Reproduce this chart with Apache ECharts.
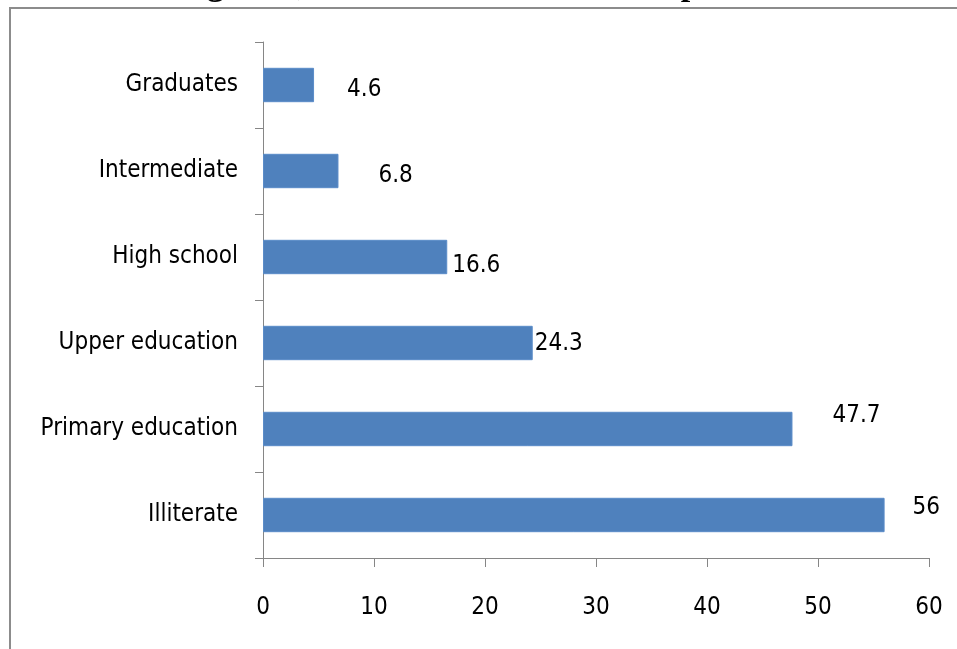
<!DOCTYPE html>
<html>
<head>
<meta charset="utf-8">
<script src="https://cdn.jsdelivr.net/npm/echarts@6/dist/echarts.min.js"></script>
<style>
  html, body { margin: 0; padding: 0; background: #ffffff; }
  #chart { width: 957px; height: 649px; }
</style>
</head>
<body>
<div id="chart"></div>
<script>
// Education level of respondents (%), listed bottom to top on the category axis
const categories = ['Illiterate', 'Primary education', 'Upper education', 'High school', 'Intermediate', 'Graduates'];
const percentages = [56, 47.7, 24.3, 16.6, 6.8, 4.6];
const xTicks = [0, 10, 20, 30, 40, 50, 60];
const titleText = 'Figure 7, Education level of the respondents';

// Hand-placed value labels: [dx, dy] nudges from the end of each bar
const labelNudges = [[28, -7], [40, -13], [2, 1], [5, 9], [40, 5], [33, 5]];

const FONT = "'Liberation Sans Narrow', 'DejaVu Sans Condensed', 'Liberation Sans', sans-serif";
const FONT_SIZE = 24;
const AXIS_GREY = '#868686';

const chart = echarts.init(document.getElementById('chart'), null, { renderer: 'canvas' });

const barData = percentages.map((v, i) => ({
  value: v,
  label: { offset: labelNudges[i] }
}));

chart.setOption({
  animation: false,
  backgroundColor: '#ffffff',
  grid: { left: 263, right: 28, top: 42, bottom: 91, containLabel: false },
  xAxis: {
    type: 'value',
    min: xTicks[0],
    max: xTicks[xTicks.length - 1],
    interval: xTicks[1] - xTicks[0],
    axisLine: { show: true, lineStyle: { color: AXIS_GREY, width: 1 } },
    axisTick: { show: true, length: 9, lineStyle: { color: AXIS_GREY } },
    splitLine: { show: false },
    axisLabel: { color: '#000', fontFamily: FONT, fontSize: FONT_SIZE, margin: 38 }
  },
  yAxis: {
    type: 'category',
    data: categories,
    axisLine: { show: true, lineStyle: { color: AXIS_GREY, width: 1 } },
    axisTick: { show: true, length: 8, lineStyle: { color: AXIS_GREY } },
    axisLabel: { color: '#000', fontFamily: FONT, fontSize: FONT_SIZE, margin: 25 }
  },
  series: [{
    type: 'bar',
    data: barData,
    barCategoryGap: '60%',
    itemStyle: { color: '#4F81BD', borderColor: '#5b8cc8', borderWidth: 1 },
    label: {
      show: true,
      position: 'right',
      distance: 0,
      color: '#000',
      fontFamily: FONT,
      fontSize: FONT_SIZE
    }
  }],
  graphic: [
    {
      // caption sits mostly above the page edge; only its lowest strokes show
      type: 'text',
      x: 495,
      y: 3,
      silent: true,
      style: {
        text: titleText,
        font: "bold 34px 'Liberation Serif', 'Times New Roman', serif",
        fill: '#000',
        align: 'center',
        verticalAlign: 'bottom'
      }
    },
    {
      type: 'rect',
      shape: { x: 10, y: 8, width: 1000, height: 700 },
      style: { fill: 'none', stroke: '#8c8c8c', lineWidth: 2 },
      silent: true
    }
  ]
});
</script>
</body>
</html>
